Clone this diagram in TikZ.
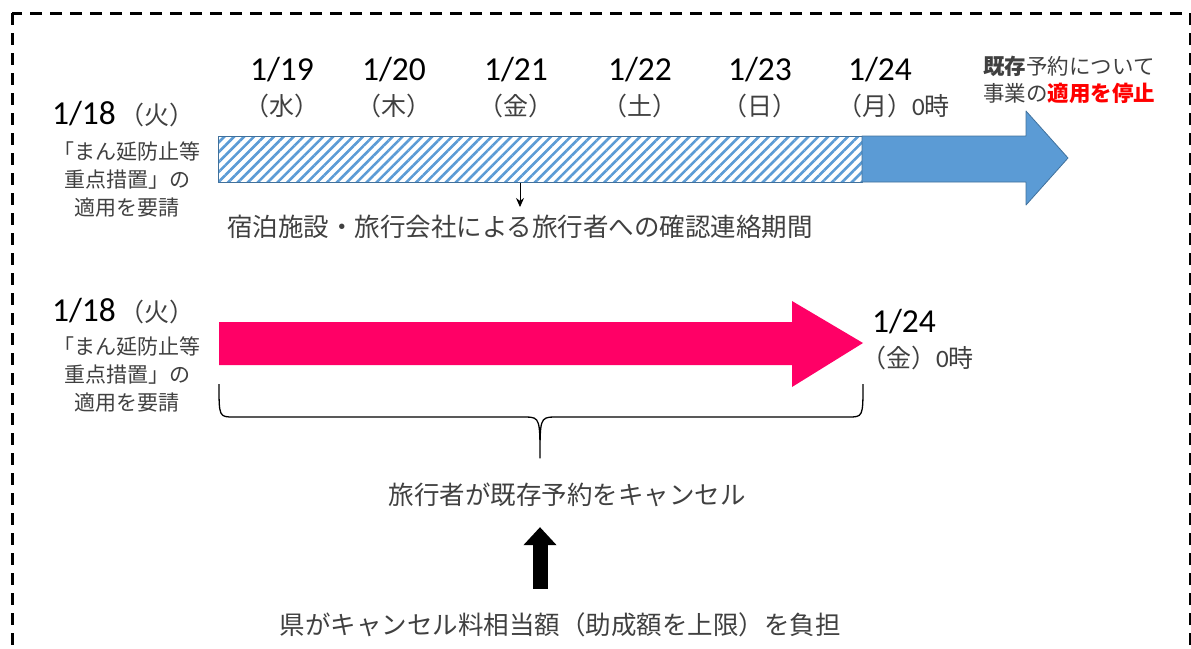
\documentclass[tikz,border=0pt]{standalone}
\usepackage{fontspec}
\setmainfont{Carlito}
\newfontfamily\jp{Noto Sans CJK JP}
\usetikzlibrary{arrows.meta,patterns.meta}
\definecolor{hatchblue}{HTML}{5B9BD5}
\definecolor{edgeblue}{HTML}{41719C}
\definecolor{pinkbar}{HTML}{FF0066}
\begin{document}
\begin{tikzpicture}[x=1pt,y=-1pt,line join=round,
	date/.style={font=\fontsize{33.5}{35}\selectfont,inner sep=0pt},
	day/.style={font=\jp\fontsize{25}{28}\selectfont,text=black!75,inner sep=0pt},
	note/.style={font=\jp\fontsize{21}{28}\selectfont,text=black!75,align=center,inner sep=0pt},
	caption/.style={font=\jp\fontsize{25.5}{30}\selectfont,text=black!75,inner sep=0pt}]
	\useasboundingbox (0,0) rectangle (1191,648);
	\clip (0,0) rectangle (1191,648);
	\draw[black,line width=3pt,dash pattern=on 12pt off 8pt] (12,13) rectangle (1190,700);
	% upper timeline
	\node[date] (start1) at (84,114) {1/18};
	\node[day,anchor=base west] (start1w) at ([xshift=3pt]start1.base east) {（火）};
	\node[note] (req1) at (127,180) {「まん延防止等\\重点措置」の\\適用を要請};
	\foreach \x/\d/\w in {282/19/水,394/20/木,516/21/金,640/22/土,760/23/日}{
		\node[date] (d\d) at (\x,70) {1/\d};
		\node[day] (w\d) at (\x,106) {（\w）};
	}
	\node[date] (d24) at (880,70) {1/24};
	\node[day,anchor=west] (w24) at (837,106) {（月）{\rmfamily 0}時};
	\node[note,anchor=west,align=left,font=\jp\fontsize{21.5}{27}\selectfont] (stop) at (983,80)
		{{\bfseries 既存}予約について\\事業の{\color{red}\bfseries 適用を停止}};
	\node[draw=edgeblue,line width=0.8pt,pattern={Lines[angle=45,distance=7pt,line width=2.6pt]},pattern color=hatchblue,
		minimum width=644pt,minimum height=46pt,inner sep=0pt] (bar) at (540,159) {};
	\filldraw[fill=hatchblue,draw=edgeblue,line width=0.8pt] (862,136) -- (1026,136) -- (1026,111) -- (1068,158)
		-- (1026,205) -- (1026,182) -- (862,182) -- cycle;
	\node[caption] (period) at (520,227) {宿泊施設・旅行会社による旅行者への確認連絡期間};
	\draw[-{Stealth[length=9pt,width=8pt]},line width=0.8pt,shorten >=8pt] (bar.south -| period.north) -- (period.north);
	% lower timeline
	\node[date] (start2) at (84,311) {1/18};
	\node[day,anchor=base west] (start2w) at ([xshift=3pt]start2.base east) {（火）};
	\node[note] (req2) at (127,375) {「まん延防止等\\重点措置」の\\適用を要請};
	\fill[pinkbar] (219,322) -- (792,322) -- (792,301) -- (863,343) -- (792,387) -- (792,365) -- (219,365) -- cycle;
	\node[date] (end2) at (904,322) {1/24};
	\node[day,anchor=west] (end2w) at (861,358) {（金）{\rmfamily 0}時};
	\coordinate (mid) at (540,458);
	\draw[line width=1.3pt] (219,384) .. controls (219,417) and (219,417) .. (234,417) -- (526,417)
		.. controls (540,417) and (540,420) .. (mid) .. controls (540,420) and (540,417) .. (554,417)
		-- (848,417) .. controls (863,417) and (863,417) .. (863,384);
	\node[caption] (cancel) at (567,495) {旅行者が既存予約をキャンセル};
	\node[caption] (cost) at (560,625) {県がキャンセル料相当額（助成額を上限）を負担};
	\draw[line width=15pt,-{Triangle[width=32pt,length=18pt]},shorten <=24pt,shorten >=20pt]
		(cost.north -| mid) -- (cancel.south -| mid);
\end{tikzpicture}
\end{document}
